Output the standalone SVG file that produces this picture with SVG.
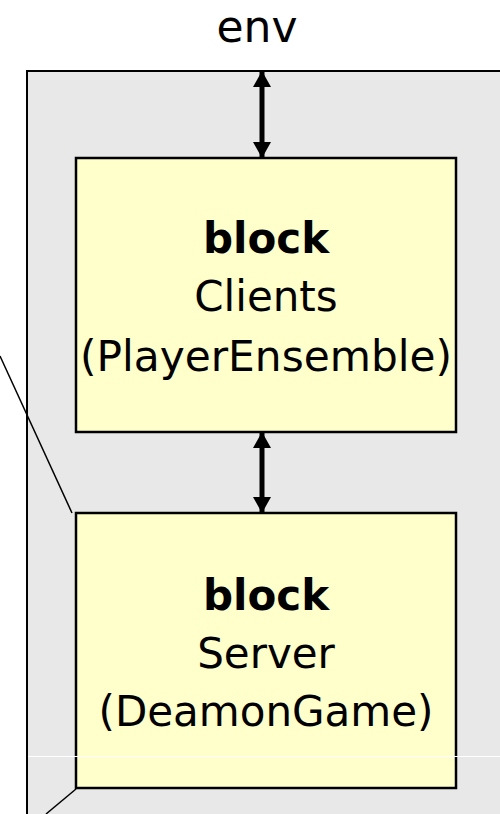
<svg xmlns="http://www.w3.org/2000/svg" width="500" height="814" viewBox="0 0 500 814">
  <defs>
    <marker id="arrowHead" viewBox="0 0 16 18" refX="15" refY="9" markerWidth="16" markerHeight="18" markerUnits="userSpaceOnUse" orient="auto-start-reverse">
      <path d="M0,0 L16,9 L0,18 Z" fill="#000"/>
    </marker>
    <style>
      .label { font-family: "DejaVu Sans", "Open Sans", sans-serif; font-size: 42px; fill: #000; text-anchor: middle; }
      .kw { font-weight: bold; }
      .title { font-size: 44px; }
      .block { fill: #ffffcc; stroke: #000; stroke-width: 2.5; }
      .link { stroke: #000; stroke-width: 5; fill: none; }
      .thin { stroke: #000; stroke-width: 1.5; fill: none; }
    </style>
  </defs>

  <rect x="0" y="0" width="500" height="814" fill="#fff"/>

  <!-- environment frame -->
  <g id="env">
    <rect x="27" y="71" width="490" height="760" fill="#e8e8e8" stroke="#000" stroke-width="2"/>
    <text class="label title" x="257" y="42">env</text>
  </g>

  <!-- Clients part -->
  <g id="clients">
    <rect class="block" x="76" y="158" width="380" height="274"/>
    <text class="label kw" x="266" y="253">block</text>
    <text class="label" x="266" y="311">Clients</text>
    <text class="label" x="266" y="371" textLength="372" lengthAdjust="spacingAndGlyphs">(PlayerEnsemble)</text>
  </g>

  <!-- Server part -->
  <g id="server">
    <rect class="block" x="76" y="513" width="380" height="275"/>
    <text class="label kw" x="266" y="610">block</text>
    <text class="label" x="266" y="668">Server</text>
    <text class="label" x="266" y="726">(DeamonGame)</text>
  </g>

  <!-- connectors -->
  <g id="connectors">
    <line class="link" x1="262" y1="72" x2="262" y2="157" marker-start="url(#arrowHead)" marker-end="url(#arrowHead)"/>
    <line class="link" x1="262" y1="433" x2="262" y2="512" marker-start="url(#arrowHead)" marker-end="url(#arrowHead)"/>
    <line class="thin" x1="0" y1="356" x2="72" y2="513"/>
    <line class="thin" x1="76" y1="789" x2="46" y2="814"/>
  </g>

  <!-- faint horizontal seam -->
  <line x1="28" y1="756.5" x2="500" y2="756.5" stroke="#fff" stroke-width="1"/>
</svg>
